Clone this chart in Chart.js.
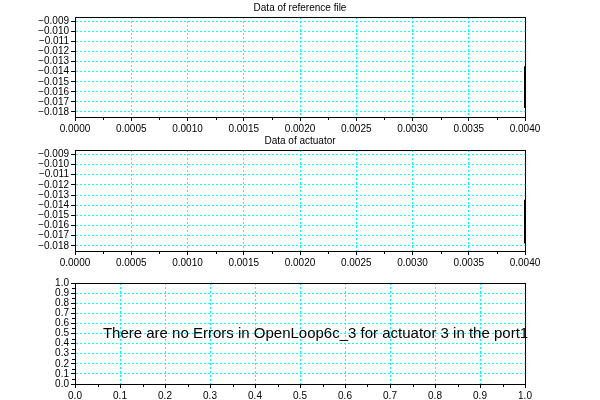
<!DOCTYPE html>
<html>
<head>
<meta charset="utf-8">
<script src="https://cdn.jsdelivr.net/npm/chart.js@4"></script>
<style>
  body { margin: 0; background: #fff; }
  canvas { position: absolute; left: 0; }
</style>
</head>
<body>
<canvas id="plotRef" width="600" height="135" style="top:0px"></canvas>
<canvas id="plotAct" width="600" height="135" style="top:135px"></canvas>
<canvas id="plotErr" width="600" height="130" style="top:270px"></canvas>
<script>
// tick labels
var timeTicks = [0, 0.0005, 0.001, 0.0015, 0.002, 0.0025, 0.003, 0.0035, 0.004];
var posTicks = [-0.009, -0.010, -0.011, -0.012, -0.013, -0.014, -0.015, -0.016, -0.017, -0.018];
var unitTicks = [0, 0.1, 0.2, 0.3, 0.4, 0.5, 0.6, 0.7, 0.8, 0.9, 1.0];

// series (only the last samples are visible, at the right edge)
var refTime = [0.004, 0.004];
var refPos = [-0.01347, -0.01760];
var actTime = [0.004, 0.004];
var actPos = [-0.01346, -0.01777];

var titles = ["Data of reference file", "Data of actuator"];
var message = "There are no Errors in OpenLoop6c_3 for actuator 3 in the port1";

var FONT = '"Liberation Sans", Arial, sans-serif';

function pts(xs, ys) {
  return xs.map(function(x, i) { return { x: x, y: ys[i] }; });
}

// frame, minor ticks, title and message text
var framePlugin = {
  id: 'frame',
  afterDraw: function(chart, args, opts) {
    var ctx = chart.ctx, a = chart.chartArea;
    ctx.save();
    ctx.strokeStyle = '#000';
    ctx.lineWidth = 1;
    ctx.strokeRect(Math.round(a.left) + 0.5, Math.round(a.top) + 0.5,
                   Math.round(a.right - a.left), Math.round(a.bottom - a.top));
    var ids = opts.minorY ? ['x', 'y'] : ['x'];
    ids.forEach(function(id) {
      var s = chart.scales[id], t = s.ticks;
      for (var i = 0; i < t.length - 1; i++) {
        var p = Math.round(s.getPixelForValue((t[i].value + t[i + 1].value) / 2)) + 0.5;
        ctx.beginPath();
        if (id === 'x') { ctx.moveTo(p, a.bottom); ctx.lineTo(p, a.bottom + 3); }
        else { ctx.moveTo(a.left - 3, p); ctx.lineTo(a.left, p); }
        ctx.stroke();
      }
    });
    ctx.fillStyle = '#000';
    if (opts.title) {
      ctx.font = '10px ' + FONT;
      ctx.textAlign = 'center';
      ctx.textBaseline = 'bottom';
      ctx.fillText(opts.title, (a.left + a.right) / 2, a.top - 4);
    }
    if (opts.message) {
      ctx.font = '15px ' + FONT;
      ctx.textAlign = 'left';
      ctx.textBaseline = 'middle';
      ctx.fillText(opts.message, chart.scales.x.getPixelForValue(opts.msgX),
                   chart.scales.y.getPixelForValue(opts.msgY));
    }
    ctx.restore();
  }
};

function axis(ticks, min, max, digits, fitFn) {
  return {
    type: 'linear',
    min: min,
    max: max,
    afterBuildTicks: function(s) { s.ticks = ticks.map(function(v) { return { value: v }; }); },
    afterFit: fitFn,
    ticks: {
      color: '#000',
      font: { family: FONT, size: 10 },
      padding: 2,
      autoSkip: false,
      maxRotation: 0,
      callback: function(v) { return v.toFixed(digits).replace('-', '\u2212'); }
    },
    grid: {
      color: 'rgb(0,255,255)',
      lineWidth: 1,
      tickColor: '#000',
      tickLength: 4,
      tickBorderDash: []
    },
    border: { display: true, color: '#000', dash: [2, 2] }
  };
}

function makePlot(id, o) {
  return new Chart(document.getElementById(id), {
    type: 'line',
    data: {
      datasets: o.series.map(function(s) {
        return {
          data: s,
          borderColor: '#000',
          borderWidth: 2,
          pointRadius: 0,
          fill: false
        };
      })
    },
    options: {
      responsive: false,
      animation: false,
      layout: { padding: { top: o.top, left: 0, right: 75, bottom: 0 } },
      scales: {
        x: axis(o.xTicks, o.xMin, o.xMax, o.xDigits, function(s) { s.height = o.xHeight; }),
        y: axis(o.yTicks, o.yMin, o.yMax, o.yDigits, function(s) { s.width = 75; })
      },
      plugins: {
        legend: { display: false },
        tooltip: { enabled: false },
        frame: o.frame
      }
    },
    plugins: [framePlugin]
  });
}

makePlot('plotRef', {
  series: [pts(refTime, refPos)],
  top: 17, xHeight: 18,
  xTicks: timeTicks, xMin: 0, xMax: 0.004, xDigits: 4,
  yTicks: posTicks, yMin: -0.0185, yMax: -0.00857, yDigits: 3,
  frame: { title: titles[0] }
});

makePlot('plotAct', {
  series: [pts(actTime, actPos)],
  top: 15, xHeight: 19,
  xTicks: timeTicks, xMin: 0, xMax: 0.004, xDigits: 4,
  yTicks: posTicks, yMin: -0.0185, yMax: -0.00857, yDigits: 3,
  frame: { title: titles[1] }
});

makePlot('plotErr', {
  series: [],
  top: 13, xHeight: 16,
  xTicks: unitTicks, xMin: 0, xMax: 1, xDigits: 1,
  yTicks: unitTicks, yMin: 0, yMax: 1, yDigits: 1,
  frame: { minorY: true, message: message, msgX: 0.062, msgY: 0.5 }
});
</script>
</body>
</html>
